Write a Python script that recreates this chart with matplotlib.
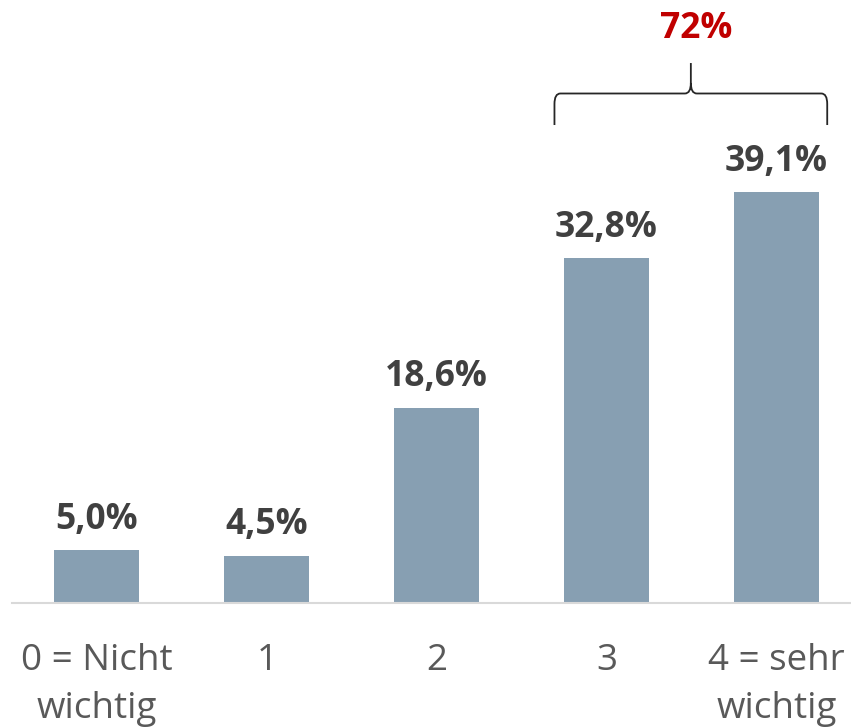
import matplotlib as mpl
mpl.use('Agg')
import matplotlib.pyplot as plt
from matplotlib.path import Path
from matplotlib.patches import PathPatch

# data
categories = ['0 = Nicht\nwichtig', '1', '2', '3', '4 = sehr\nwichtig']
values = [5.0, 4.5, 18.6, 32.8, 39.1]
bracket_idx = [3, 4]

bar_color = '#879fb2'
plt.rcParams['font.family'] = ['Open Sans', 'DejaVu Sans']

fig = plt.figure(figsize=(8.51, 7.27), dpi=100)
ax = fig.add_axes([12 / 851, 124 / 727, 1 - 12 / 851, 603 / 727])
x = list(range(len(values)))
ax.bar(x, values, width=0.5, color=bar_color, zorder=2)
ax.set_xlim(-0.5, 4.44)
ax.set_ylim(0, 57.4)

for i, v in zip(x, values):
    ax.annotate(('%.1f%%' % v).replace('.', ','), (i, v), xytext=(0, 9),
                textcoords='offset points', ha='center', va='bottom',
                fontsize=25.5, fontweight='bold', color='#404040')

for s in ['top', 'right', 'left']:
    ax.spines[s].set_visible(False)
ax.spines['bottom'].set_color('#d9d9d9')
ax.spines['bottom'].set_linewidth(1.5)
ax.set_yticks([])
ax.set_xticks(x)
ax.set_xticklabels(categories, fontsize=26.5, color='#595959', linespacing=1.45)
ax.tick_params(axis='x', length=0, pad=29)

# curly bracket over the top two bars
x0 = bracket_idx[0] - 0.306
x1 = bracket_idx[1] + 0.30
xm = (x0 + x1) / 2
yb, yh, yt = 45.5, 48.5, 51.4
rx, ry = 0.035, 1.0
verts = [(x0, yb), (x0, yh - ry), (x0, yh), (x0 + rx, yh),
         (xm - rx, yh), (xm, yh), (xm, yh + ry), (xm, yt),
         (xm, yh + ry), (xm, yh), (xm + rx, yh),
         (x1 - rx, yh), (x1, yh), (x1, yh - ry), (x1, yb)]
codes = [Path.MOVETO, Path.LINETO, Path.CURVE3, Path.CURVE3,
         Path.LINETO, Path.CURVE3, Path.CURVE3, Path.LINETO,
         Path.MOVETO, Path.CURVE3, Path.CURVE3,
         Path.LINETO, Path.CURVE3, Path.CURVE3, Path.LINETO]
ax.add_patch(PathPatch(Path(verts, codes), fill=False, edgecolor='#262626', lw=1.3))
total = sum(values[i] for i in bracket_idx)
ax.text(xm + 0.03, 52.9, '%d%%' % round(total), ha='center', va='bottom',
        fontsize=25.5, fontweight='bold', color='#c00000')

fig.savefig('out.png', dpi=100)
